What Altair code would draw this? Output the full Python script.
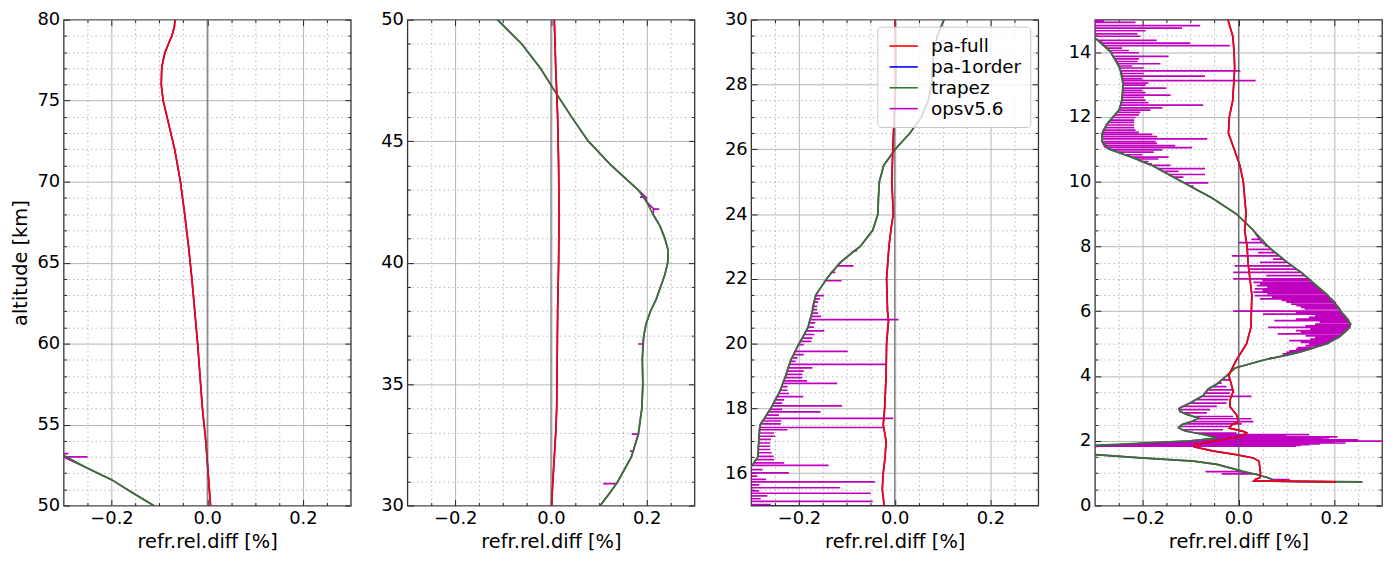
import json
import altair as alt
import pandas as pd

SERIES = ["pa-full", "pa-1order", "trapez", "opsv5.6"]
COLORS = ["#ff0000", "#0000ff", "#2a7a2a", "#bf00bf"]

# pa-full profile (altitude km, refr. rel. diff %)
RED_ALT = [80, 79.5, 79, 78.5, 78, 77.5, 77, 76, 75, 74, 73, 72, 71, 70, 68, 66, 64, 62, 60, 58, 56, 54, 52,
           50, 48, 46, 44, 42, 40, 38, 36, 34, 33, 32, 31, 30, 29, 28, 27, 26, 25, 24, 23.5,
           23, 22, 21, 20.7, 20, 19, 18, 17.5, 17, 16.5, 16, 15.5, 15, 14.5, 14, 13.5, 13, 12.5, 12, 11.5,
           11, 10.5, 10, 9.5, 9, 8.5, 8, 7.5, 7, 6.5, 6, 5.5, 5, 4.5, 4.1, 4.0, 3.8, 3.52, 3.3, 3.06,
           2.8, 2.6, 2.49, 2.39, 2.29, 2.24, 2.14, 2.03, 1.88, 1.81, 1.68, 1.57, 1.47, 1.37, 1.01, 0.86, 0.81, 0.76, 0.73]
RED_VAL = [-0.067, -0.069, -0.074, -0.081, -0.088, -0.092, -0.095, -0.096, -0.092, -0.084, -0.076, -0.068, -0.062,
           -0.056, -0.047, -0.039, -0.032, -0.026, -0.020, -0.015, -0.010, -0.003, 0.002,
           0.007, 0.010, 0.014, 0.016, 0.017, 0.016, 0.014, 0.013, 0.012, 0.010,
           0.007, 0.004, 0.001, 0.002, 0.002, -0.001, -0.004, -0.006, -0.003, -0.008,
           -0.012, -0.017, -0.015, -0.013, -0.017, -0.018, -0.021, -0.024, -0.018, -0.020,
           -0.024, -0.026, -0.022, -0.012, -0.009, -0.008, -0.010, -0.012, -0.019, -0.021,
           -0.009, 0.003, 0.010, 0.013, 0.016, 0.013, 0.018, 0.020, 0.024, 0.028,
           0.027, 0.026, 0.017, -0.004, -0.018, -0.020, -0.016, -0.011, -0.017, -0.018,
           -0.004, 0.0, -0.014, -0.019, 0.010, 0.017, 0.007, -0.035, -0.090, -0.092,
           -0.052, -0.004, 0.031, 0.043, 0.046, 0.045, 0.036, 0.032, 0.204]

# pa-1order coincides with pa-full at this scale
BLUE_ALT = list(RED_ALT)
BLUE_VAL = list(RED_VAL)

# trapez profile
GREEN_ALT = [55, 53.1, 52.3, 51.6, 50.8, 50, 49, 48, 47, 46, 45, 44, 43, 42.5, 42, 41.5, 41, 40.5, 40, 39.5,
             39, 38.5, 38, 37.5, 37, 36, 35, 34, 33, 32, 31, 30.5, 30, 29.5, 29, 28.5, 28, 27.5, 27, 26.5,
             26, 25.5, 25, 24.5, 24, 23.5, 23, 22.5, 22, 21.5, 21, 20.5, 20, 19.5, 19, 18.5, 18, 17.5, 17, 16.5,
             16.2, 15.8, 15.0, 14.6, 14.41, 14, 13.5, 13, 12.5, 12.2, 12, 11.75, 11.5, 11.25, 11, 10.75, 10.5, 10, 9.5, 9,
             8.5, 8, 7.5, 7.2, 6.84, 6.5, 6, 5.75, 5.6, 5.5, 5.25, 5, 4.75, 4.5, 4.25, 4, 3.75, 3.6, 3.4, 3.2,
             3, 2.9, 2.8, 2.7, 2.6, 2.5, 2.4, 2.3, 2.2, 2.08, 2.0, 1.93, 1.86, 1.7, 1.57, 1.47, 1.37, 1.27, 1.11, 0.96,
             0.86, 0.79, 0.75, 0.73]
GREEN_VAL = [-0.42, -0.30, -0.25, -0.20, -0.157, -0.112, -0.061, -0.022, 0.010, 0.043,
             0.078, 0.126, 0.182, 0.200, 0.213, 0.228, 0.238, 0.245, 0.244, 0.238,
             0.229, 0.220, 0.208, 0.199, 0.194, 0.191, 0.192, 0.190, 0.183, 0.168,
             0.140, 0.122, 0.103, 0.089, 0.082, 0.079, 0.077, 0.070, 0.056, 0.032,
             0.001, -0.023, -0.032, -0.034, -0.035, -0.046, -0.072, -0.114, -0.142, -0.165,
             -0.172, -0.181, -0.200, -0.217, -0.228, -0.241, -0.259, -0.281, -0.284, -0.286,
             -0.300, -0.34, -0.36, -0.33, -0.298, -0.267, -0.248, -0.241, -0.244, -0.250,
             -0.262, -0.276, -0.284, -0.285, -0.270, -0.222, -0.180, -0.118, -0.056, -0.004,
             0.031, 0.062, 0.103, 0.131, 0.159, 0.186, 0.214, 0.228, 0.234, 0.232,
             0.214, 0.186, 0.131, 0.055, -0.007, -0.025, -0.045, -0.063, -0.073, -0.097,
             -0.124, -0.122, -0.105, -0.083, -0.097, -0.118, -0.125, -0.111, -0.076, -0.045,
             -0.10, -0.20, -0.30, -0.40, -0.30, -0.204, -0.094, -0.045, -0.004, 0.038,
             0.062, 0.072, 0.076, 0.259]

# opsv5.6 follows trapez, plus outliers: (altitude, value on the profile, outlier value)
OPS_ALT = list(GREEN_ALT)
OPS_VAL = list(GREEN_VAL)
OPS_SPIKES = [
    (53.2, -0.31, -0.29), (53.0, -0.30, -0.25), (42.7, 0.198, 0.186), (42.2, 0.215, 0.226),
    (36.65, 0.192, 0.182), (32.94, 0.183, 0.169), (32.24, 0.172, 0.165), (30.9, 0.137, 0.109),
    (22.86, -0.085, -0.079), (22.40, -0.120, -0.086), (22.2, -0.132, -0.124), (21.94, -0.145, -0.111),
    (21.48, -0.165, -0.148), (21.38, -0.167, -0.156), (21.28, -0.169, -0.160), (21.15, -0.171, -0.162),
    (21.05, -0.172, -0.162), (20.94, -0.173, -0.160), (20.84, -0.175, -0.154), (20.74, -0.177, 0.008),
    (20.64, -0.179, -0.166), (20.51, -0.181, -0.169), (20.39, -0.185, -0.147), (20.28, -0.189, -0.168),
    (20.17, -0.193, -0.172), (20.07, -0.197, -0.174), (19.97, -0.201, -0.190), (19.76, -0.208, -0.098),
    (19.66, -0.211, -0.190), (19.56, -0.215, -0.203), (19.45, -0.218, -0.207), (19.36, -0.220, -0.017),
    (19.25, -0.223, -0.172), (19.15, -0.225, -0.190), (19.05, -0.227, -0.193), (18.95, -0.229, -0.193),
    (18.85, -0.232, -0.183), (18.77, -0.234, -0.120), (18.67, -0.236, -0.224), (18.56, -0.239, -0.224),
    (18.46, -0.242, -0.221), (18.36, -0.246, -0.191), (18.26, -0.250, -0.231), (18.16, -0.253, -0.235),
    (18.08, -0.256, -0.110), (17.97, -0.260, -0.235), (17.89, -0.264, -0.155), (17.79, -0.268, -0.242),
    (17.69, -0.272, -0.003), (17.61, -0.276, -0.237), (17.52, -0.280, -0.238), (17.41, -0.282, -0.022),
    (17.34, -0.283, -0.224), (17.24, -0.283, -0.252), (17.14, -0.284, -0.250), (17.04, -0.284, -0.259),
    (16.93, -0.284, -0.260), (16.83, -0.285, -0.260), (16.73, -0.285, -0.260), (16.63, -0.285, -0.257),
    (16.52, -0.286, -0.253), (16.42, -0.290, -0.252), (16.32, -0.294, -0.231), (16.24, -0.298, -0.138),
    (16.11, -0.31, -0.276), (16.01, -0.32, -0.221), (15.91, -0.325, -0.287), (15.81, -0.33, -0.269),
    (15.73, -0.335, -0.041), (15.64, -0.34, -0.283), (15.55, -0.345, -0.114), (15.45, -0.35, -0.283),
    (15.38, -0.35, -0.050), (15.30, -0.355, -0.266), (15.21, -0.355, -0.280), (15.13, -0.36, -0.046),
    (15.03, -0.36, -0.259),
    (14.97, -0.36, -0.281), (14.92, -0.355, -0.215), (14.82, -0.35, -0.080), (14.74, -0.345, -0.118),
    (14.66, -0.34, -0.194), (14.56, -0.33, -0.211), (14.49, -0.32, -0.205), (14.36, -0.292, -0.171),
    (14.28, -0.285, -0.101), (14.20, -0.28, -0.018), (14.12, -0.275, -0.243), (14.05, -0.27, -0.229),
    (13.98, -0.266, -0.208), (13.87, -0.262, -0.146), (13.79, -0.258, -0.208), (13.71, -0.255, -0.211),
    (13.64, -0.252, -0.163), (13.57, -0.25, -0.222), (13.51, -0.248, -0.198), (13.42, -0.246, 0.004),
    (13.34, -0.244, -0.198), (13.26, -0.243, -0.070), (13.18, -0.242, -0.201), (13.12, -0.242, 0.036),
    (13.04, -0.241, -0.188), (12.98, -0.241, -0.194), (12.89, -0.241, -0.151), (12.82, -0.242, -0.201),
    (12.75, -0.242, -0.194), (12.67, -0.243, -0.142), (12.60, -0.243, -0.198), (12.52, -0.244, -0.194),
    (12.44, -0.245, -0.188), (12.36, -0.246, -0.074), (12.28, -0.248, -0.159), (12.21, -0.250, -0.184),
    (12.14, -0.254, -0.205), (12.06, -0.258, -0.208), (11.98, -0.263, -0.215), (11.90, -0.268, -0.218),
    (11.83, -0.272, -0.218), (11.75, -0.276, -0.218), (11.67, -0.279, -0.218), (11.59, -0.282, -0.215),
    (11.52, -0.284, -0.208), (11.46, -0.285, -0.180), (11.39, -0.285, -0.170), (11.32, -0.285, -0.065),
    (11.24, -0.285, -0.173), (11.18, -0.283, -0.170), (11.11, -0.280, -0.132), (11.05, -0.276, -0.097),
    (10.98, -0.265, -0.159), (10.91, -0.252, -0.177), (10.83, -0.238, -0.201), (10.76, -0.224, -0.146),
    (10.70, -0.214, -0.167), (10.62, -0.202, -0.188), (10.55, -0.190, -0.181), (10.50, -0.180, -0.142),
    (10.40, -0.168, -0.070), (10.32, -0.158, -0.125), (10.22, -0.146, -0.070), (10.14, -0.136, -0.115),
    (10.06, -0.126, -0.125), (9.96, -0.113, -0.063), (9.86, -0.101, -0.094),
    (8.22, 0.044, 0.027), (8.12, 0.050, -0.001), (8.02, 0.060, 0.055), (7.91, 0.068, 0.017),
    (7.81, 0.076, 0.041), (7.71, 0.085, -0.014), (7.61, 0.093, 0.072), (7.51, 0.102, 0.045),
    (7.40, 0.112, -0.008), (7.30, 0.121, 0.024), (7.20, 0.131, -0.011), (7.10, 0.139, 0.058),
    (7.00, 0.147, -0.011), (6.95, 0.151, 0.050), (6.89, 0.155, 0.031), (6.84, 0.159, 0.045),
    (6.79, 0.163, 0.038), (6.74, 0.167, 0.060), (6.69, 0.171, 0.034), (6.64, 0.175, 0.050),
    (6.59, 0.179, 0.031), (6.54, 0.183, 0.060), (6.48, 0.187, 0.034), (6.43, 0.190, 0.070),
    (6.38, 0.194, 0.045), (6.33, 0.197, 0.090), (6.28, 0.201, 0.100), (6.22, 0.203, 0.110),
    (6.17, 0.206, 0.121), (6.12, 0.209, 0.130), (6.07, 0.211, 0.138), (6.00, 0.214, -0.011),
    (5.96, 0.216, 0.120), (5.91, 0.219, 0.051), (5.86, 0.222, 0.160), (5.81, 0.225, 0.147),
    (5.76, 0.228, 0.120), (5.71, 0.230, 0.075), (5.66, 0.232, 0.170), (5.60, 0.234, 0.160),
    (5.55, 0.233, 0.140), (5.50, 0.232, 0.062), (5.45, 0.229, 0.150), (5.40, 0.226, 0.120),
    (5.35, 0.222, 0.130), (5.30, 0.218, 0.082), (5.24, 0.213, 0.140), (5.19, 0.209, 0.160),
    (5.14, 0.203, 0.150), (5.09, 0.196, 0.106), (5.04, 0.190, 0.130), (4.99, 0.183, 0.147),
    (4.94, 0.172, 0.140), (4.88, 0.160, 0.123), (4.83, 0.150, 0.120), (4.78, 0.138, 0.106),
    (4.73, 0.126, 0.100), (4.68, 0.113, 0.092), (4.56, 0.075, 0.065),
    (3.88, -0.035, -0.018), (3.78, -0.043, -0.035), (3.67, -0.055, -0.025), (3.57, -0.065, -0.011),
    (3.47, -0.070, -0.018), (3.37, -0.077, 0.027), (3.27, -0.090, -0.021), (3.16, -0.102, -0.025),
    (3.06, -0.117, -0.045), (2.96, -0.124, -0.059), (2.86, -0.115, -0.066), (2.75, -0.094, -0.011),
    (2.68, -0.086, 0.027), (2.59, -0.099, 0.031), (2.52, -0.113, 0.007), (2.44, -0.123, -0.018),
    (2.34, -0.118, -0.032), (2.24, -0.090, -0.004), (2.19, -0.070, 0.148), (2.16, -0.060, 0.100),
    (2.12, -0.050, 0.207), (2.09, -0.048, 0.190), (2.06, -0.060, 0.176), (2.03, -0.080, 0.250),
    (1.99, -0.105, 0.310), (1.96, -0.150, 0.200), (1.93, -0.200, 0.224), (1.90, -0.220, 0.170),
    (1.88, -0.250, 0.148), (1.86, -0.280, 0.130), (1.83, -0.290, 0.120),
    (1.05, 0.0, -0.069), (0.98, 0.030, -0.035), (0.80, 0.072, 0.107),
]

ZERO_LINE = [0.0]

PANEL_Y = [(50, 80), (30, 50), (15, 30), (0, 15)]
Y_MAJOR = [[50, 55, 60, 65, 70, 75, 80], [30, 35, 40, 45, 50],
           [16, 18, 20, 22, 24, 26, 28, 30], [0, 2, 4, 6, 8, 10, 12, 14]]
Y_MINOR_STEP = [1, 1, 0.5, 0.5]
X_DOMAIN = [-0.3, 0.3]
X_MAJOR = [-0.2, 0.0, 0.2]
X_MINOR = [-0.25, -0.15, -0.1, -0.05, 0.05, 0.1, 0.15, 0.25]

# ---------------- data table ----------------
rows = []


def add(name, alts, vals):
    for i, (a, v) in enumerate(zip(alts, vals)):
        rows.append({"series": name, "alt": a, "val": v, "idx": i})


add("pa-full", RED_ALT, RED_VAL)
add("pa-1order", BLUE_ALT, BLUE_VAL)
add("trapez", GREEN_ALT, GREEN_VAL)
mag = [(a, 0, v) for a, v in zip(OPS_ALT, OPS_VAL)]
for a, b, s in OPS_SPIKES:
    mag.append((a, 1, b))   # on the profile
    mag.append((a, 2, s))   # out to the outlier
    mag.append((a, 3, b))   # and back at the same level
mag.sort(key=lambda t: (-t[0], t[1]))
add("opsv5.6", [m[0] for m in mag], [m[2] for m in mag])
df = pd.DataFrame(rows)
zero_df = pd.DataFrame({"v": ZERO_LINE})

FONT = "DejaVu Sans"
W, H = 289, 489


def minor_list(lo, hi, step, majors):
    out = []
    n = int(round((hi - lo) / step))
    for i in range(1, n):
        v = round(lo + i * step, 4)
        if v not in majors:
            out.append(v)
    return out


def main_axis(orient, majors, minors, title, label_expr, lpad, tpad):
    test = "indexof(%s, datum.value) >= 0" % json.dumps(majors)
    kw = dict(orient=orient, values=sorted(majors + minors), grid=True,
              gridDash={"condition": {"test": test, "value": []}, "value": [1.5, 3]},
              gridColor={"condition": {"test": test, "value": "#b5b5b5"}, "value": "#b0b0b0"},
              gridWidth={"condition": {"test": test, "value": 1.0}, "value": 0.9},
              ticks=False, domain=False, labelExpr=label_expr.replace("TEST", test),
              labelOverlap=False, labelFlush=False, labelPadding=lpad, titlePadding=tpad,
              labelFont=FONT, titleFont=FONT, labelFontSize=18, titleFontSize=19.5,
              labelColor="#000000", titleColor="#000000", titleFontWeight="normal")
    kw["title"] = title
    return alt.Axis(**kw)


def tick_axis(orient, values, size):
    return alt.Axis(orient=orient, values=values, offset=-size, tickSize=size, labels=False,
                    domain=False, grid=False, title=None, tickColor="#222222", tickWidth=1)


X_LABEL = "TEST ? (datum.value < 0 ? '\u2212' : '') + format(abs(datum.value), '.1f') : ''"
Y_LABEL = "TEST ? format(datum.value, 'd') : ''"


def panel(k):
    lo, hi = PANEL_Y[k]
    ymaj = Y_MAJOR[k]
    ymin = minor_list(lo, hi, Y_MINOR_STEP[k], ymaj)
    xs = alt.Scale(domain=X_DOMAIN, nice=False, zero=False)
    ys = alt.Scale(domain=[lo, hi], nice=False, zero=False)
    if k == 2:
        legend = alt.Legend(orient="none", legendX=127, legendY=7, title=None,
                            symbolType="M-1.5,0L1.5,0", symbolSize=361, symbolStrokeWidth=1.6,
                            symbolOffset=7, labelOffset=17,
                            labelFont=FONT, labelFontSize=18.5, labelColor="#000000",
                            rowPadding=1, padding=9,
                            fillColor="rgba(255,255,255,0.8)", strokeColor="#c8c8c8",
                            cornerRadius=4, labelLimit=200)
    else:
        legend = None
    color = alt.Color("series:N", scale=alt.Scale(domain=SERIES, range=COLORS), legend=legend)
    ytitle = "altitude [km]" if k == 0 else None

    axes = [
        (main_axis("bottom", X_MAJOR, X_MINOR, "refr.rel.diff [%]", X_LABEL, 4, 5),
         main_axis("left", ymaj, ymin, ytitle, Y_LABEL, 4, 6)),
        (tick_axis("bottom", X_MAJOR, 6), tick_axis("left", ymaj, 6)),
        (tick_axis("bottom", X_MINOR, 3), tick_axis("left", ymin, 3)),
        (tick_axis("top", X_MAJOR, 6), tick_axis("right", ymaj, 6)),
        (tick_axis("top", X_MINOR, 3), tick_axis("right", ymin, 3)),
    ]

    def line(name, width, ax, visible=True):
        xa, ya = ax
        mk = alt.Chart(df).transform_filter(alt.datum.series == name)
        if visible:
            mk = mk.mark_line(clip=True, strokeWidth=width)
        else:
            mk = mk.mark_line(clip=True, strokeWidth=width, opacity=0)
        enc = dict(x=alt.X("val:Q", scale=xs, axis=xa),
                   y=alt.Y("alt:Q", scale=ys, axis=ya),
                   order=alt.Order("idx:Q"))
        if visible:
            enc["color"] = color
        return mk.encode(**enc)

    layers = [
        line("opsv5.6", 1.7, axes[0]),
        line("pa-1order", 1.6, axes[1]),
        line("trapez", 1.7, axes[2]),
        line("pa-full", 1.7, axes[3]),
        line("pa-full", 1.0, axes[4], visible=False),
        alt.Chart(zero_df).mark_rule(color="#555555", strokeWidth=0.9).encode(
            x=alt.X("v:Q", scale=xs, axis=None)),
    ]
    return alt.layer(*layers).resolve_axis(x="independent", y="independent").properties(width=W, height=H)


chart = alt.hconcat(*[panel(k) for k in range(4)], spacing=57, bounds="flush").resolve_scale(
    color="independent").resolve_legend(color="independent").properties(
    padding={"left": 2, "top": 0, "right": 2, "bottom": 2}
).configure_view(stroke="#333333", strokeWidth=1.3).configure_axis(
    labelFont=FONT, titleFont=FONT)

chart.save("out.html", embed_options={"renderer": "svg", "actions": False})
